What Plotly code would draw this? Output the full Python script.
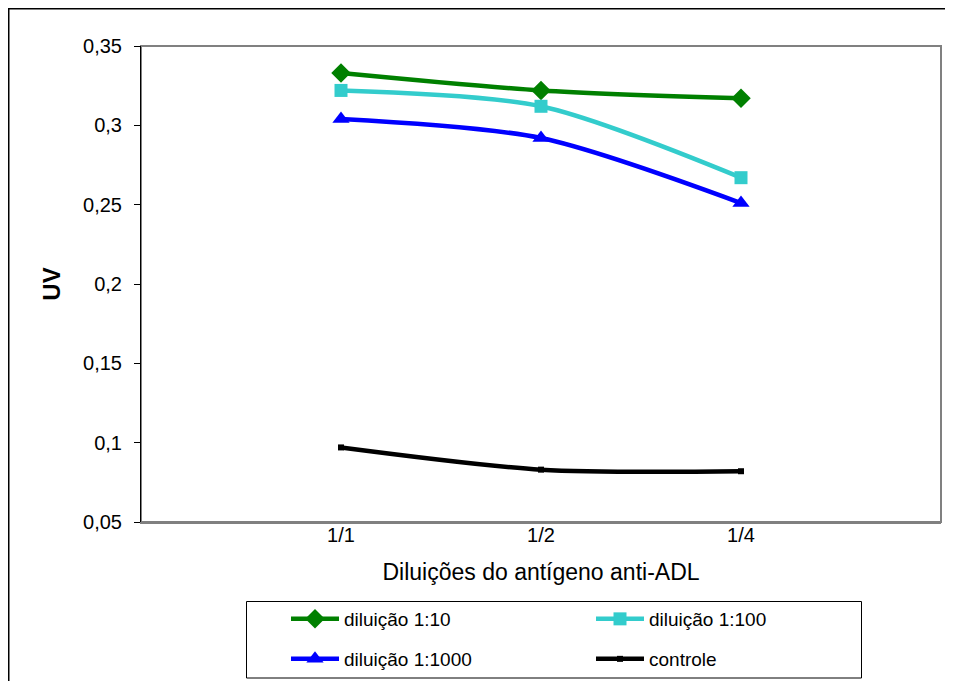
import plotly.graph_objects as go

categories = ["1/1", "1/2", "1/4"]
s_110 = [0.333, 0.322, 0.317]
s_1100 = [0.322, 0.312, 0.267]
s_11000 = [0.304, 0.292, 0.251]
s_ctrl = [0.097, 0.083, 0.082]
names = ["diluição 1:10", "diluição 1:100", "diluição 1:1000", "controle"]
y_ticks = [0.05, 0.1, 0.15, 0.2, 0.25, 0.3, 0.35]

# page offset of 8px (body margin) -> figure coordinates
W, H = 945, 673
L, R, T, B = 133, 933, 38, 514
pw, ph = R - L, B - T

FONT = "Liberation Sans, Arial, sans-serif"
xs = list(range(len(categories)))


def px_x(p):
    return (p - L) / pw


def px_y(p):
    return (B - p) / ph


fig = go.Figure()
specs = [
    (s_110, "#008000", "diamond", 15),
    (s_1100, "#33CCCC", "square", 13),
    (s_11000, "#0000FF", "triangle-up", 15),
    (s_ctrl, "#000000", "square", 6),
]
legend_ids = ["legend", "legend2", "legend3", "legend4"]
for nm, (data, color, sym, size), lg in zip(names, specs, legend_ids):
    fig.add_trace(go.Scatter(
        x=xs, y=data, name=nm, mode="lines+markers", legend=lg,
        line=dict(color=color, width=4.5, shape="spline", smoothing=0.8),
        marker=dict(symbol=sym, size=size, color=color),
    ))

# legend item positions (figure px): line start x, row center y
leg_pos = [(278, 611), (583, 611), (278, 651), (583, 651)]
leg_layout = {}
for lg, (lx, ly) in zip(legend_ids, leg_pos):
    leg_layout[lg] = dict(
        x=px_x(lx), xanchor="left", y=px_y(ly), yanchor="middle",
        bgcolor="rgba(0,0,0,0)", borderwidth=0, itemwidth=48,
        font=dict(family=FONT, size=19, color="black"),
    )

fig.update_layout(
    width=W, height=H,
    margin=dict(l=L, r=W - R, t=T, b=H - B, autoexpand=False),
    paper_bgcolor="white", plot_bgcolor="white",
    separators=",.",
    font=dict(family=FONT, size=19, color="black"),
    showlegend=True,
    xaxis=dict(
        range=[-1, 3], tickvals=xs, ticktext=categories,
        showgrid=False, zeroline=False, showline=True, linecolor="#808080", linewidth=2,
        ticks="", tickfont=dict(size=20), ticklabelstandoff=-6,
        title=dict(text="Diluições do antígeno anti-ADL", font=dict(size=23), standoff=19),
        automargin=False,
    ),
    yaxis=dict(
        range=[0.05, 0.35], tickvals=y_ticks,
        showgrid=False, zeroline=False, showline=True, linecolor="#000000", linewidth=1,
        ticks="outside", ticklen=6, tickcolor="black", tickfont=dict(size=20),
        ticklabelstandoff=8,
        title=dict(text="<b>UV</b>", font=dict(size=24), standoff=15),
        automargin=False,
    ),
    shapes=[
        dict(type="rect", xref="paper", yref="paper", x0=0, x1=1, y0=0, y1=1,
             line=dict(color="#808080", width=2), layer="below"),
        dict(type="rect", xref="paper", yref="paper",
             x0=px_x(0.75), x1=px_x(990), y0=px_y(720), y1=px_y(0.75),
             line=dict(color="black", width=1.5), layer="below"),
        dict(type="rect", xref="paper", yref="paper",
             x0=px_x(238.5), x1=px_x(853.5), y0=px_y(670), y1=px_y(593.5),
             line=dict(color="black", width=1), layer="below"),
    ],
    **leg_layout,
)

fig.write_html("out.html")
